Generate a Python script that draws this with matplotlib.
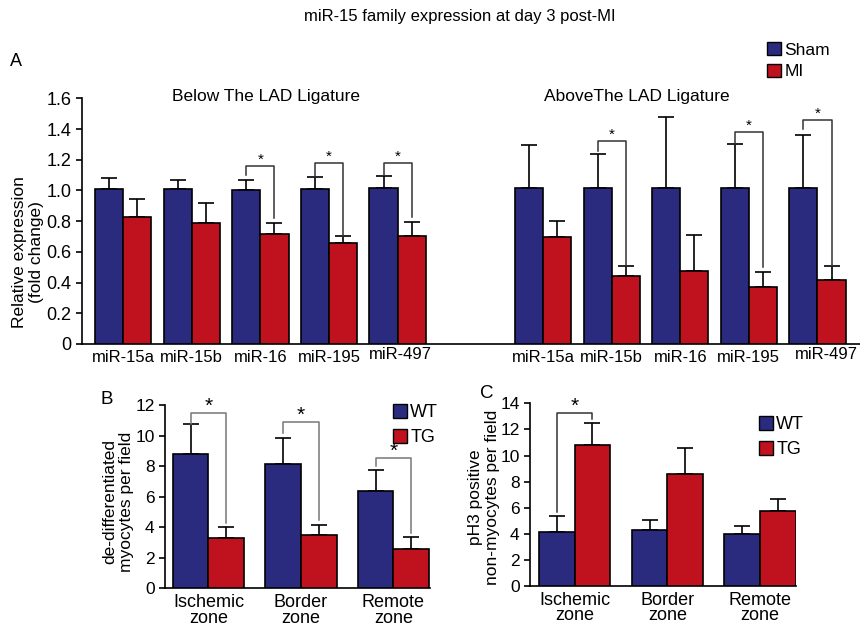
import numpy as np
import matplotlib
matplotlib.use("Agg")
import matplotlib.pyplot as plt
from matplotlib.transforms import ScaledTranslation

plt.rcParams['font.family'] = ['Liberation Sans', 'DejaVu Sans']

# ---------------- data ----------------
mirs = ["miR-15a", "miR-15b", "miR-16", "miR-195", "miR-497"]

below_sham = [1.01, 1.01, 1.00, 1.01, 1.015]
below_sham_err = [0.07, 0.06, 0.065, 0.075, 0.08]
below_mi = [0.83, 0.79, 0.717, 0.656, 0.702]
below_mi_err = [0.115, 0.127, 0.07, 0.048, 0.09]

above_sham = [1.015, 1.015, 1.015, 1.015, 1.015]
above_sham_err = [0.28, 0.22, 0.465, 0.285, 0.347]
above_mi = [0.70, 0.44, 0.478, 0.372, 0.417]
above_mi_err = [0.10, 0.068, 0.234, 0.095, 0.091]

zones = ["Ischemic\nzone", "Border\nzone", "Remote\nzone"]

dediff_wt = [8.79, 8.11, 6.35]
dediff_wt_err = [1.94, 1.75, 1.37]
dediff_tg = [3.27, 3.51, 2.60]
dediff_tg_err = [0.76, 0.63, 0.78]

ph3_wt = [4.11, 4.27, 4.00]
ph3_wt_err = [1.28, 0.76, 0.62]
ph3_tg = [10.78, 8.60, 5.77]
ph3_tg_err = [1.69, 2.00, 0.92]

# significance brackets: (index, top, left leg start, right leg end)
sig_below = [(2, 1.16, 1.10, 0.82), (3, 1.178, 1.09, 0.70), (4, 1.178, 1.10, 0.83)]
sig_above = [(1, 1.325, 1.26, 0.51), (3, 1.38, 1.30, 0.50), (4, 1.458, 1.40, 0.51)]
sig_dediff = [(0, 11.49, 10.73, 4.30), (1, 10.86, 10.14, 4.47), (2, 8.50, 8.00, 3.64)]
sig_ph3 = [(0, 13.26, 5.65, 12.80)]

BLUE = "#2a2a7e"
RED = "#c0111f"

fig = plt.figure(figsize=(8.6, 6.27), dpi=100)


def draw_pairs(ax, pos, a, aerr, b, berr, w, cap):
    pos = np.asarray(pos, dtype=float)
    ax.bar(pos - w / 2, a, width=w, color=BLUE, edgecolor="black", linewidth=1.2, zorder=3)
    ax.bar(pos + w / 2, b, width=w, color=RED, edgecolor="black", linewidth=1.2, zorder=3)
    ax.errorbar(pos - w / 2, a, yerr=[np.zeros(len(a)), aerr], fmt="none", ecolor="black",
                elinewidth=1.2, capsize=cap, capthick=1.2, zorder=2)
    ax.errorbar(pos + w / 2, b, yerr=[np.zeros(len(b)), berr], fmt="none", ecolor="black",
                elinewidth=1.2, capsize=cap, capthick=1.2, zorder=2)


def draw_sig(ax, pos, w, sigs, color, star_off, fs):
    for i, top, lstart, rend in sigs:
        xl = pos[i] - w / 2
        xr = pos[i] + w / 2
        ax.plot([xl, xl, xr, xr], [lstart, top, top, rend], color=color, lw=1.1, zorder=4)
        ax.text((xl + xr) / 2, top + star_off, "*", ha="center", va="center", fontsize=fs)


def style(ax):
    for s in ["top", "right"]:
        ax.spines[s].set_visible(False)
    ax.spines["left"].set_linewidth(1.2)
    ax.spines["bottom"].set_linewidth(1.2)
    ax.tick_params(axis="x", length=0)
    ax.tick_params(axis="y", direction="out", length=4, width=1.2)


# ---------------- panel A ----------------
axA = fig.add_axes([82 / 860, (627 - 344) / 627, 778 / 860, 245.7 / 627])
wA = 0.41
pos_below = np.arange(5)
pos_above = np.arange(5) + 6.12
draw_pairs(axA, pos_below, below_sham, below_sham_err, below_mi, below_mi_err, wA, 5.5)
draw_pairs(axA, pos_above, above_sham, above_sham_err, above_mi, above_mi_err, wA, 5.5)
draw_sig(axA, pos_below, wA, sig_below, "#333333", 0.04, 11)
draw_sig(axA, pos_above, wA, sig_above, "#333333", 0.04, 11)
axA.set_xlim(-0.6, 10.74)
axA.set_ylim(0, 1.6)
axA.set_yticks(np.arange(0, 1.61, 0.2))
axA.set_yticklabels(["0"] + ["%.1f" % v for v in np.arange(0.2, 1.61, 0.2)])
axA.set_xticks(np.concatenate([pos_below, pos_above]))
axA.set_xticklabels(mirs + mirs)
style(axA)
axA.tick_params(axis="y", labelsize=13)
axA.tick_params(axis="x", labelsize=12, pad=4)
# the miR-497 labels sit a little higher (and the right one further right)
xl = axA.get_xticklabels()
xl[4].set_transform(xl[4].get_transform() + ScaledTranslation(3 / 100, 3 / 100, fig.dpi_scale_trans))
xl[9].set_transform(xl[9].get_transform() + ScaledTranslation(9 / 100, 3 / 100, fig.dpi_scale_trans))
axA.text(2.08, 1.61, "Below The LAD Ligature", ha="center", va="center", fontsize=12.5)
axA.text(7.48, 1.61, "AboveThe LAD Ligature", ha="center", va="center", fontsize=12.5)
fig.text(28 / 860, 1 - 252 / 627, "Relative expression\n(fold change)", rotation=90,
         ha="center", va="center", fontsize=12.5, linespacing=1.1)
fig.text(10 / 860, 1 - 61 / 627, "A", ha="left", va="center", fontsize=13)
hA = [plt.Rectangle((0, 0), 1, 1, facecolor=c, edgecolor="black") for c in (BLUE, RED)]
fig.legend(hA, ["Sham", "MI"], loc="upper left", bbox_to_anchor=(767 / 860, 1 - 42 / 627),
           frameon=False, fontsize=12.5, handlelength=0.8, handleheight=0.8,
           handletextpad=0.2, labelspacing=0.35, borderpad=0, borderaxespad=0)

# ---------------- panel B ----------------
axB = fig.add_axes([165 / 860, (627 - 588.3) / 627, 265.5 / 860, 183.3 / 627])
wB = 0.384
posB = np.arange(3)
draw_pairs(axB, posB, dediff_wt, dediff_wt_err, dediff_tg, dediff_tg_err, wB, 6)
draw_sig(axB, posB, wB, sig_dediff, "#777777", 0.45, 15)
axB.set_xlim(-0.47, 2.40)
axB.set_ylim(0, 12)
axB.set_yticks(range(0, 13, 2))
axB.set_xticks(posB)
axB.set_xticklabels(zones, linespacing=0.9)
style(axB)
axB.tick_params(axis="y", labelsize=12.5)
axB.tick_params(axis="x", labelsize=13, pad=4)
fig.text(118 / 860, 1 - 502 / 627, "de-differentiated\nmyocytes per field", rotation=90,
         ha="center", va="center", fontsize=12.5, linespacing=1.2)
fig.text(100 / 860, 1 - 400 / 627, "B", ha="left", va="center", fontsize=13.5)
hB = [plt.Rectangle((0, 0), 1, 1, facecolor=c, edgecolor="black") for c in (BLUE, RED)]
axB.legend(hB, ["WT", "TG"], loc="upper left", bbox_to_anchor=(393 / 860, 1 - 404 / 627),
           bbox_transform=fig.transFigure, frameon=False, fontsize=13,
           handlelength=0.8, handleheight=0.8, handletextpad=0.15, labelspacing=0.45,
           borderpad=0, borderaxespad=0)

# ---------------- panel C ----------------
axC = fig.add_axes([530 / 860, (627 - 586) / 627, 266.3 / 860, 182.7 / 627])
posC = np.arange(3)
draw_pairs(axC, posC, ph3_wt, ph3_wt_err, ph3_tg, ph3_tg_err, wB, 6)
draw_sig(axC, posC, wB, sig_ph3, "#333333", 0.5, 15)
axC.set_xlim(-0.48, 2.39)
axC.set_ylim(0, 14)
axC.set_yticks(range(0, 15, 2))
axC.set_xticks(posC)
axC.set_xticklabels(zones, linespacing=0.9)
style(axC)
axC.tick_params(axis="y", labelsize=12.5)
axC.tick_params(axis="x", labelsize=13, pad=4)
fig.text(484 / 860, 1 - 497 / 627, "pH3 positive\nnon-myocytes per field", rotation=90,
         ha="center", va="center", fontsize=12.5, linespacing=1.2)
fig.text(480 / 860, 1 - 394 / 627, "C", ha="left", va="center", fontsize=13.5)
hC = [plt.Rectangle((0, 0), 1, 1, facecolor=c, edgecolor="black") for c in (BLUE, RED)]
axC.legend(hC, ["WT", "TG"], loc="upper left", bbox_to_anchor=(759 / 860, 1 - 416 / 627),
           bbox_transform=fig.transFigure, frameon=False, fontsize=13,
           handlelength=0.8, handleheight=0.8, handletextpad=0.15, labelspacing=0.45,
           borderpad=0, borderaxespad=0)

fig.text(460 / 860, 1 - 16 / 627, "miR-15 family expression at day 3 post-MI",
         ha="center", va="center", fontsize=12)

fig.savefig("out.png", dpi=100)
